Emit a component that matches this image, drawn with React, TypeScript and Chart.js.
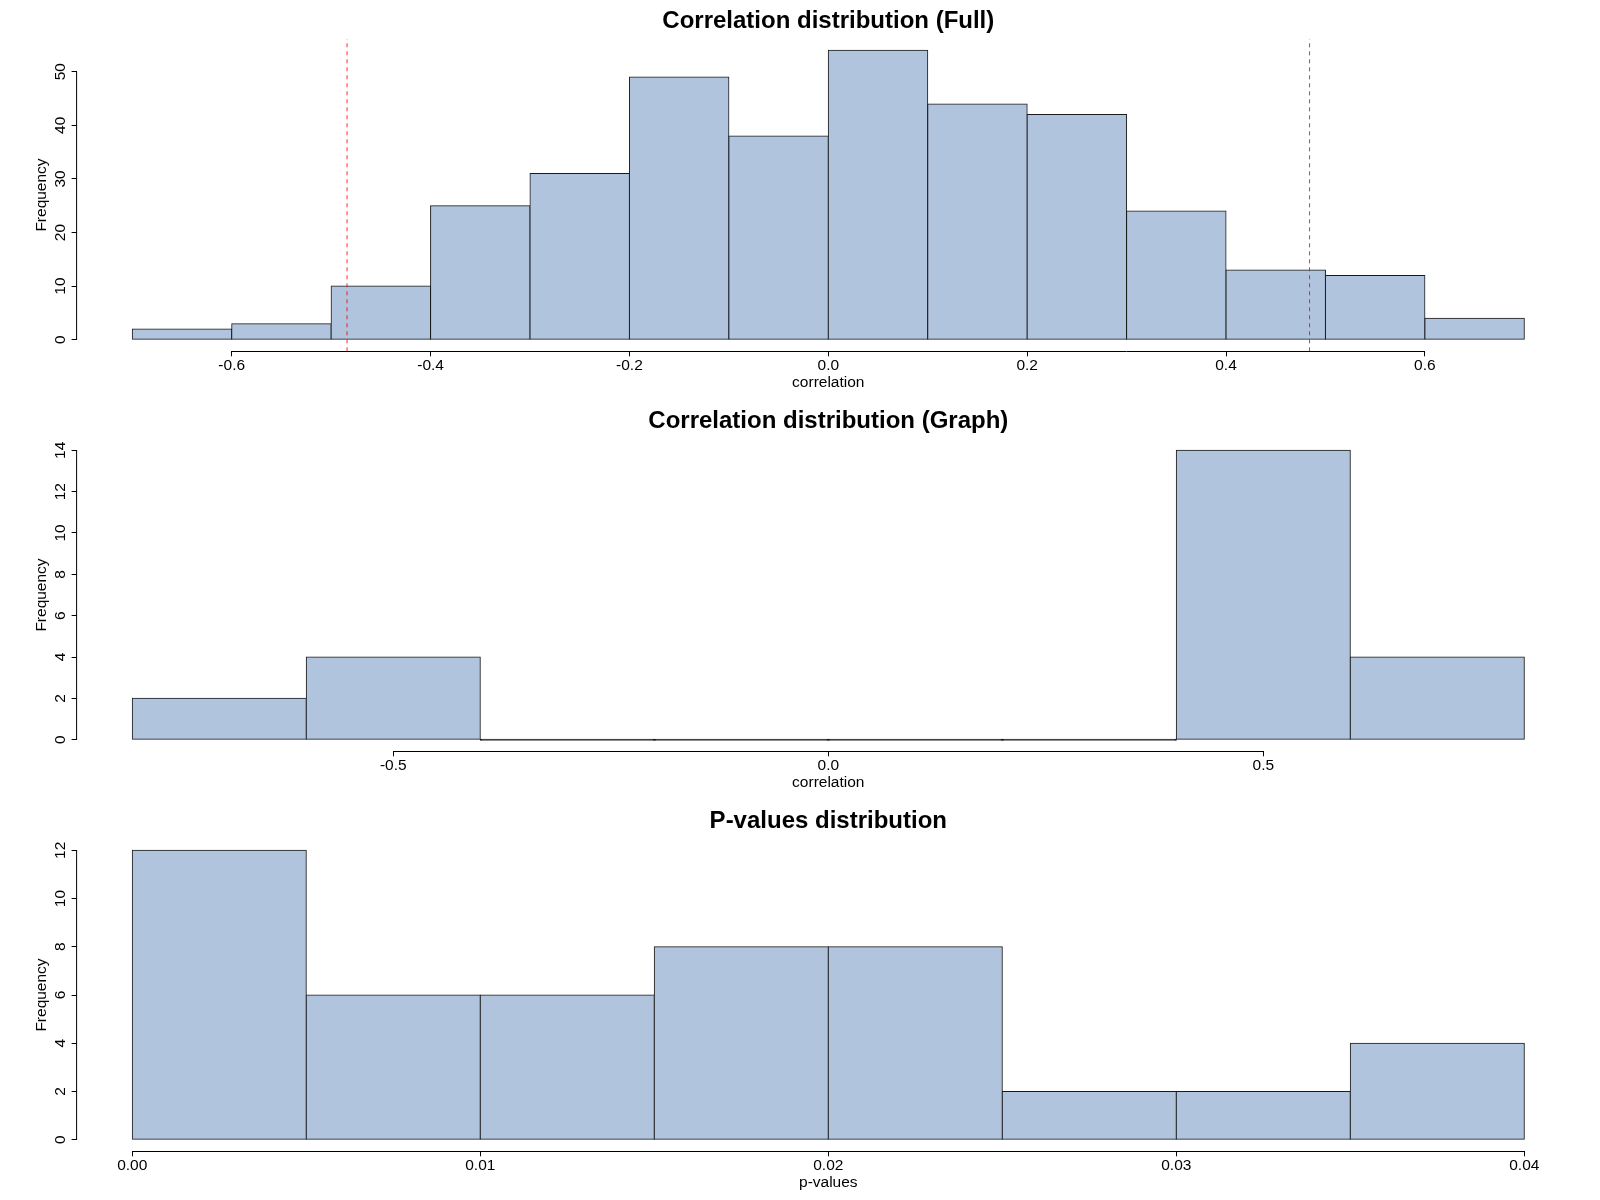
import React, { useEffect, useRef } from 'react';
import { Chart, registerables } from 'chart.js';

Chart.register(...registerables);

const FONT = '"Liberation Sans", Arial, Helvetica, sans-serif';

// ---- Panel 1: Correlation distribution (Full)
const fullTitle = 'Correlation distribution (Full)';
const fullXLabel = 'correlation';
const fullBreaks = [-0.7, -0.6, -0.5, -0.4, -0.3, -0.2, -0.1, 0, 0.1, 0.2, 0.3, 0.4, 0.5, 0.6, 0.7];
const fullCounts = [2, 3, 10, 25, 31, 49, 38, 54, 44, 42, 24, 13, 12, 4];
const fullXTicks = [-0.6, -0.4, -0.2, 0, 0.2, 0.4, 0.6];
const fullXTickLabels = ['-0.6', '-0.4', '-0.2', '0.0', '0.2', '0.4', '0.6'];
const fullYTicks = [0, 10, 20, 30, 40, 50];
const fullThresholds = [-0.484, 0.484];

// ---- Panel 2: Correlation distribution (Graph)
const graphTitle = 'Correlation distribution (Graph)';
const graphXLabel = 'correlation';
const graphBreaks = [-0.8, -0.6, -0.4, -0.2, 0, 0.2, 0.4, 0.6, 0.8];
const graphCounts = [2, 4, 0, 0, 0, 0, 14, 4];
const graphXTicks = [-0.5, 0, 0.5];
const graphXTickLabels = ['-0.5', '0.0', '0.5'];
const graphYTicks = [0, 2, 4, 6, 8, 10, 12, 14];
const graphThresholds: number[] = [];

// ---- Panel 3: P-values distribution
const pTitle = 'P-values distribution';
const pXLabel = 'p-values';
const pBreaks = [0, 0.005, 0.01, 0.015, 0.02, 0.025, 0.03, 0.035, 0.04];
const pCounts = [12, 6, 6, 8, 8, 2, 2, 4];
const pXTicks = [0, 0.01, 0.02, 0.03, 0.04];
const pXTickLabels = ['0.00', '0.01', '0.02', '0.03', '0.04'];
const pYTicks = [0, 2, 4, 6, 8, 10, 12];
const pThresholds: number[] = [];

const yLabel = 'Frequency';

const BAR_FILL = '#B0C4DE';
const BAR_EDGE = '#1a1a1a';

const rAxes = {
  id: 'rAxes',
  afterDraw(chart: any) {
    const { ctx, chartArea, scales } = chart;
    const x = scales.x;
    const y = scales.y;
    const xt = x.ticks;
    const yt = y.ticks;
    ctx.save();
    ctx.strokeStyle = '#000';
    ctx.lineWidth = 1;
    ctx.beginPath();
    const yb = Math.floor(chartArea.bottom) + 0.5;
    ctx.moveTo(x.getPixelForValue(xt[0].value), yb);
    ctx.lineTo(x.getPixelForValue(xt[xt.length - 1].value), yb);
    ctx.stroke();
    ctx.beginPath();
    ctx.moveTo(chartArea.left, y.getPixelForValue(yt[0].value));
    ctx.lineTo(chartArea.left, y.getPixelForValue(yt[yt.length - 1].value));
    ctx.stroke();
    ctx.restore();
  },
};

type HistProps = {
  title: string;
  xLabel: string;
  breaks: number[];
  counts: number[];
  xTicks: number[];
  xTickLabels: string[];
  yTicks: number[];
  thresholds: number[];
};

function Hist(p: HistProps) {
  const ref = useRef<HTMLCanvasElement | null>(null);
  useEffect(() => {
    const lo = p.breaks[0];
    const hi = p.breaks[p.breaks.length - 1];
    const xPad = (hi - lo) * 0.04;
    const yMaxData = Math.max(...p.counts);
    const yPad = yMaxData * 0.04;
    const yMin = -yPad;
    const yMax = yMaxData + yPad;

    const lineSets = p.thresholds.map((t) => ({
      type: 'line' as const,
      data: [
        { x: t, y: yMin },
        { x: t, y: yMax },
      ],
      borderColor: 'rgba(255,0,0,0.85)',
      borderWidth: 1,
      borderDash: [4, 4],
      pointRadius: 0,
      fill: false,
      tension: 0,
      order: 0,
    }));

    const barSet = {
      type: 'bar' as const,
      data: p.counts.map((c, i) => ({ x: (p.breaks[i] + p.breaks[i + 1]) / 2, y: c })),
      backgroundColor: (ctx: any) => (ctx.raw && ctx.raw.y === 0 ? BAR_EDGE : BAR_FILL),
      borderColor: BAR_EDGE,
      borderWidth: 1,
      borderSkipped: false,
      inflateAmount: 0.5,
      barPercentage: 1,
      categoryPercentage: 1,
      minBarLength: 1,
      order: 1,
    };

    const tickFont = { family: FONT, size: 15.5 };

    const chart = new Chart(ref.current as HTMLCanvasElement, {
      type: 'bar',
      data: { datasets: [...lineSets, barSet] as any },
      options: {
        responsive: false,
        animation: false,
        devicePixelRatio: 1,
        layout: { padding: { left: 0, right: 20, top: 0, bottom: 0 } },
        plugins: {
          legend: { display: false },
          tooltip: { enabled: false },
          title: {
            display: true,
            text: p.title,
            fullSize: false,
            color: '#000',
            font: { family: FONT, size: 24, weight: 'bold' },
            padding: { top: 6.9, bottom: 3 },
          },
        },
        scales: {
          x: {
            type: 'linear',
            min: lo - xPad,
            max: hi + xPad,
            offset: false,
            grid: {
              display: true,
              drawOnChartArea: false,
              drawTicks: true,
              tickLength: 5,
              color: '#000',
              tickColor: '#000',
              offset: false,
            },
            border: { display: false },
            ticks: {
              autoSkip: false,
              minRotation: 0,
              maxRotation: 0,
              padding: 0,
              color: '#000',
              font: tickFont,
              callback: (_v: any, i: number) => p.xTickLabels[i],
            },
            title: {
              display: true,
              text: p.xLabel,
              color: '#000',
              font: tickFont,
              padding: { top: 0, bottom: 7.5 },
            },
            afterBuildTicks: (s: any) => {
              s.ticks = p.xTicks.map((v) => ({ value: v }));
            },
            afterFit: (s: any) => {
              s.height = 48.7;
            },
          },
          y: {
            type: 'linear',
            min: yMin,
            max: yMax,
            grid: {
              display: true,
              drawOnChartArea: false,
              drawTicks: true,
              tickLength: 5,
              color: '#000',
              tickColor: '#000',
            },
            border: { display: false },
            ticks: {
              autoSkip: false,
              minRotation: 90,
              maxRotation: 90,
              crossAlign: 'center',
              padding: 2,
              color: '#000',
              font: tickFont,
              callback: (_v: any, i: number) => String(p.yTicks[i]),
            },
            title: {
              display: true,
              text: yLabel,
              color: '#000',
              font: tickFont,
              padding: { top: 32.7, bottom: 0 },
            },
            afterBuildTicks: (s: any) => {
              s.ticks = p.yTicks.map((v) => ({ value: v }));
            },
            afterFit: (s: any) => {
              s.width = 76.6;
            },
          },
        },
      } as any,
      plugins: [rAxes],
    });
    return () => chart.destroy();
  }, []);
  return (
    <canvas
      ref={ref}
      width={1600}
      height={400}
      style={{ display: 'block', width: 1600, height: 400 }}
    />
  );
}

export default function App() {
  return (
    <div style={{ position: 'absolute', left: 0, top: 0, width: 1600, height: 1200, background: '#fff' }}>
      <Hist
        title={fullTitle}
        xLabel={fullXLabel}
        breaks={fullBreaks}
        counts={fullCounts}
        xTicks={fullXTicks}
        xTickLabels={fullXTickLabels}
        yTicks={fullYTicks}
        thresholds={fullThresholds}
      />
      <Hist
        title={graphTitle}
        xLabel={graphXLabel}
        breaks={graphBreaks}
        counts={graphCounts}
        xTicks={graphXTicks}
        xTickLabels={graphXTickLabels}
        yTicks={graphYTicks}
        thresholds={graphThresholds}
      />
      <Hist
        title={pTitle}
        xLabel={pXLabel}
        breaks={pBreaks}
        counts={pCounts}
        xTicks={pXTicks}
        xTickLabels={pXTickLabels}
        yTicks={pYTicks}
        thresholds={pThresholds}
      />
    </div>
  );
}
